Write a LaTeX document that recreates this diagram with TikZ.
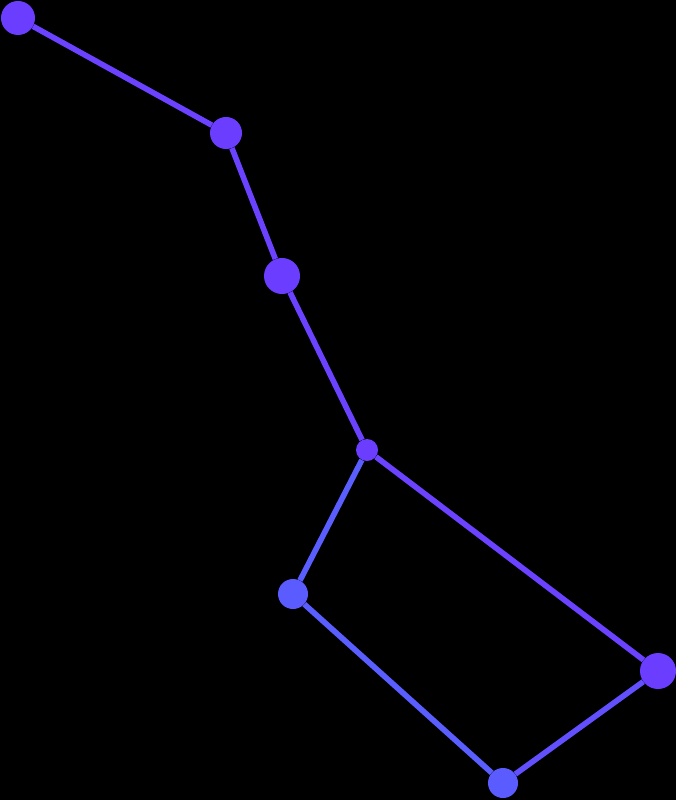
\documentclass[tikz,border=0pt]{standalone}
\usepackage{tikz}

\definecolor{starpurple}{HTML}{6A3DFF}
\definecolor{starblue}{HTML}{5A5CFF}
\definecolor{linkpurple}{HTML}{6A42FF}
\definecolor{linkblue}{HTML}{5A5EFF}

\tikzset{
  star/.style={circle, fill=starpurple, inner sep=0pt, minimum size=#1},
  link/.style={line width=4pt, draw=linkpurple}
}

\begin{document}
\begin{tikzpicture}[x=0.025cm, y=-0.025cm]
    \fill[black] (0,0) rectangle (676,800);
    \useasboundingbox (0,0) rectangle (676,800);
    \node[star=0.85cm] (alkaid) at (18,18) {};
    \node[star=0.8cm] (mizar) at (226,133) {};
    \node[star=0.9cm] (alioth) at (282,276) {};
    \node[star=0.55cm] (megrez) at (367,450) {};
    \node[star=0.75cm, fill=starblue] (phecda) at (293,594) {};
    \node[star=0.9cm] (dubhe) at (658,671) {};
    \node[star=0.75cm, fill=starblue] (merak) at (503,783) {};
    \draw[link] (alkaid) -- (mizar) -- (alioth) -- (megrez) -- (dubhe);
    \draw[link, draw=linkblue] (megrez) -- (phecda) -- (merak);
    \draw[link, draw=linkpurple!50!linkblue] (merak) -- (dubhe);
\end{tikzpicture}
\end{document}
